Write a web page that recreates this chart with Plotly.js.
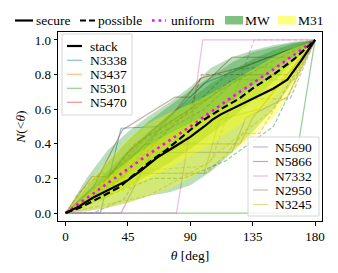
<!DOCTYPE html>
<html>
<head>
<meta charset="utf-8">
<script src="https://cdn.plot.ly/plotly-3.0.1.min.js"></script>
<style>html,body{margin:0;padding:0;background:#fff;}#chart{width:338px;height:273px;}</style>
</head>
<body>
<div id="chart"></div>
<script>
// ---------------- data ----------------
const theta = [0, 15, 30, 45, 60, 75, 90, 105, 120, 135, 150, 165, 180];

// MW bands (upper / lower)
const mwOuterUpper  = [0, 0.20, 0.36, 0.47, 0.56, 0.64, 0.73, 0.84, 0.90, 0.94, 0.97, 0.99, 1];
const mwOuterLower  = [0, 0.01, 0.03, 0.06, 0.10, 0.12, 0.16, 0.24, 0.35, 0.47, 0.60, 0.77, 1];
const mwMidUpper    = [0, 0.15, 0.29, 0.42, 0.53, 0.62, 0.71, 0.79, 0.87, 0.93, 0.96, 0.985, 1];
const mwMidLower    = [0, 0.04, 0.09, 0.15, 0.22, 0.29, 0.37, 0.46, 0.55, 0.65, 0.76, 0.88, 1];
const mwInnerUpper  = [0, 0.12, 0.24, 0.36, 0.47, 0.57, 0.66, 0.75, 0.82, 0.89, 0.94, 0.98, 1];
const mwInnerLower  = [0, 0.06, 0.14, 0.22, 0.30, 0.38, 0.47, 0.56, 0.65, 0.74, 0.83, 0.91, 1];

// M31 bands (upper / lower)
const m31OuterUpper = [0, 0.16, 0.30, 0.43, 0.52, 0.58, 0.63, 0.69, 0.76, 0.83, 0.90, 0.96, 1];
const m31OuterLower = [0, 0.01, 0.03, 0.06, 0.10, 0.14, 0.20, 0.27, 0.35, 0.44, 0.55, 0.72, 1];
const m31InnerUpper = [0, 0.10, 0.20, 0.30, 0.39, 0.46, 0.52, 0.58, 0.65, 0.72, 0.80, 0.90, 1];
const m31InnerLower = [0, 0.04, 0.09, 0.14, 0.20, 0.26, 0.33, 0.40, 0.48, 0.56, 0.66, 0.80, 1];

// stacked distributions and uniform reference  [theta, N]
const stackSecure   = [[0,0],[10,0.04],[20,0.09],[32,0.14],[45,0.19],[55,0.25],[66,0.32],[78,0.38],[90,0.44],[100,0.50],[106,0.54],[112,0.57],[125,0.62],[140,0.68],[150,0.72],[160,0.77],[170,0.88],[180,1]];
const stackPossible = [[0,0],[10,0.03],[20,0.07],[30,0.11],[39,0.15],[46,0.20],[54,0.25],[63,0.31],[72,0.36],[81,0.42],[90,0.48],[96,0.52],[112,0.60],[125,0.66],[135,0.72],[150,0.80],[165,0.89],[180,1]];
const uniform       = [[0,0],[30,0.17],[60,0.34],[90,0.50],[120,0.67],[150,0.83],[180,1]];

// individual galaxies  [theta, N]
const n3338Secure   = [[0,0],[25,0],[40,0.49],[68,0.50],[100,0.75],[140,0.88],[180,1]];
const n3338Possible = [[0,0],[30,0.12],[50,0.30],[65,0.45],[80,0.51],[100,0.60],[120,0.75],[150,0.88],[180,1]];
const n3437Secure   = [[0,0],[19,0.21],[30,0.21],[58,0.40],[126,0.40],[135,0.55],[155,0.75],[180,1]];
const n3437Possible = [[0,0],[10,0.12],[25,0.23],[101,0.23],[115,0.33],[128,0.46],[140,0.46],[165,0.80],[180,1]];
const n5301Secure   = [[0,0],[160,0],[180,1]];
const n5301Possible = [[0,0],[30,0.10],[63,0.20],[85,0.20],[115,0.30],[150,0.50],[180,1]];
const n5470Secure   = [[0,0],[20,0.10],[45,0.35],[80,0.60],[98,0.78],[130,0.85],[180,1]];
const n5470Possible = [[0,0],[40,0.20],[70,0.45],[90,0.60],[98,0.80],[162,0.80],[180,1]];
const n5690Secure   = [[0,0],[40,0],[62,0.35],[120,0.35],[130,0.55],[160,0.67],[180,1]];
const n5690Possible = [[0,0],[20,0],[42,0.08],[60,0.30],[100,0.50],[119,0.66],[162,0.66],[180,1]];
const n5866Secure   = [[0,0],[20,0.15],[41,0.48],[79,0.67],[90,0.67],[120,0.90],[167,0.90],[180,1]];
const n5866Possible = [[0,0],[25,0.15],[50,0.40],[90,0.58],[120,0.77],[165,0.77],[180,1]];
const n7332Secure   = [[0,0],[80,0],[90,0.49],[99,1],[180,1]];
const n7332Possible = [[0,0],[60,0.10],[105,0.30],[136,1],[180,1]];
const n2950Secure   = [[0,0],[20,0.10],[45,0.30],[70,0.50],[100,0.65],[130,0.80],[160,0.80],[180,1]];
const n2950Possible = [[0,0],[30,0.20],[60,0.45],[90,0.60],[120,0.83],[160,0.85],[180,1]];
const n3245Secure   = [[0,0],[25,0.15],[50,0.23],[100,0.23],[111,0.54],[140,0.60],[180,1]];
const n3245Possible = [[0,0],[30,0.15],[60,0.25],[100,0.27],[110,0.35],[150,0.60],[180,1]];

const galaxyNames = ['N3338','N3437','N5301','N5470','N5690','N5866','N7332','N2950','N3245'];
const galaxyColors = ['#1f77b4','#ff7f0e','#2ca02c','#d62728','#9467bd','#8c564b','#e377c2','#7f7f7f','#bcbd22'];
const galaxySecure = [n3338Secure,n3437Secure,n5301Secure,n5470Secure,n5690Secure,n5866Secure,n7332Secure,n2950Secure,n3245Secure];
const galaxyPossible = [n3338Possible,n3437Possible,n5301Possible,n5470Possible,n5690Possible,n5866Possible,n7332Possible,n2950Possible,n3245Possible];

const xTicks = [0, 45, 90, 135, 180];
const yTicks = [0, 0.2, 0.4, 0.6, 0.8, 1.0];

// ---------------- build ----------------
const FONT = '"Liberation Serif", "Times New Roman", serif';
const traces = [];

function lineTrace(pts, color, width, dash, opacity) {
  return {x: pts.map(p => p[0]), y: pts.map(p => p[1]), mode: 'lines', type: 'scatter',
          line: {color: color, width: width, dash: dash}, opacity: opacity,
          showlegend: false, hoverinfo: 'skip'};
}
function band(up, lo, color) {
  return {x: theta.concat(theta.slice().reverse()), y: up.concat(lo.slice().reverse()),
          mode: 'lines', type: 'scatter', fill: 'toself', fillcolor: color,
          line: {width: 0, color: 'rgba(0,0,0,0)'}, showlegend: false, hoverinfo: 'skip'};
}

for (let i = 0; i < galaxyNames.length; i++) {
  traces.push(lineTrace(galaxySecure[i], galaxyColors[i], 1.2, 'solid', 0.5));
  traces.push(lineTrace(galaxyPossible[i], galaxyColors[i], 1.2, '4px,2px', 0.5));
}
const mwC = 'rgba(0,128,0,0.27)', m31C = 'rgba(255,255,0,0.36)';
traces.push(band(mwOuterUpper, mwOuterLower, mwC));
traces.push(band(mwMidUpper, mwMidLower, mwC));
traces.push(band(mwInnerUpper, mwInnerLower, mwC));
traces.push(band(m31OuterUpper, m31OuterLower, m31C));
traces.push(band(m31InnerUpper, m31InnerLower, m31C));
traces.push(lineTrace(uniform, '#ff00ff', 2.6, '2.6px,4px', 1));
traces.push(lineTrace(stackPossible, '#000000', 2.2, '7px,3.5px', 1));
traces.push(lineTrace(stackSecure, '#000000', 2.2, 'solid', 1));

// manual legends (pixel -> paper)
const L = 58, R = 322, T = 32, B = 221;
const PX = px => (px - L) / (R - L);
const PY = py => (B - py) / (B - T);
const shapes = [], annotations = [];
function legLine(x0, x1, y, color, width, dash, opacity) {
  shapes.push({type: 'line', xref: 'paper', yref: 'paper', x0: PX(x0), x1: PX(x1), y0: PY(y), y1: PY(y),
               line: {color: color, width: width, dash: dash}, opacity: opacity, layer: 'above'});
}
function legText(x, y, txt) {
  annotations.push({xref: 'paper', yref: 'paper', x: PX(x), y: PY(y), xanchor: 'left', yanchor: 'middle',
                    text: txt, showarrow: false, font: {family: FONT, size: 13.5, color: '#000'}});
}
function legRect(x0, x1, y0, y1, fill, lineColor) {
  shapes.push({type: 'rect', xref: 'paper', yref: 'paper', x0: PX(x0), x1: PX(x1), y0: PY(y1), y1: PY(y0),
               fillcolor: fill, line: {color: lineColor, width: lineColor ? 1 : 0}, layer: 'above'});
}

// top legend
legLine(15, 33, 20.5, '#000', 2.2, 'solid', 1);       legText(34, 20.5, 'secure');
legLine(80, 97, 20.5, '#000', 2.2, '6px,3px', 1);     legText(96, 20.5, 'possible');
legLine(152, 166, 20.5, '#ff00ff', 2.6, '2.6px,4px', 1); legText(169, 20.5, 'uniform');
legRect(225, 243, 16, 24.5, 'rgb(128,192,128)', null); legText(243, 20.5, 'MW');
legRect(278, 296, 16, 24.5, 'rgb(255,255,128)', null); legText(296, 20.5, 'M31');

// legend 1 (upper left)
legRect(62, 132, 34, 115, 'rgba(255,255,255,0.8)', '#d6d6d6');
const rows1 = [46, 60.3, 74.3, 88.3, 102.3];
legLine(67, 82, rows1[0], '#000', 2.2, 'solid', 1); legText(88, rows1[0], 'stack');
for (let i = 0; i < 4; i++) {
  legLine(67, 82, rows1[i + 1], galaxyColors[i], 1.2, 'solid', 0.5);
  legText(88, rows1[i + 1], galaxyNames[i]);
}
// legend 2 (lower right)
legRect(248, 319, 137, 216, 'rgba(255,255,255,0.8)', '#d6d6d6');
const rows2 = [147, 161.5, 176, 190, 204.5];
for (let i = 0; i < 5; i++) {
  legLine(253, 268, rows2[i], galaxyColors[i + 4], 1.2, 'solid', 0.5);
  legText(273, rows2[i], galaxyNames[i + 4]);
}

const axisCommon = {showgrid: false, zeroline: false, showline: true, mirror: true, linecolor: '#000',
                    linewidth: 1, ticks: 'outside', ticklen: 3.5, tickwidth: 1, tickcolor: '#000',
                    tickfont: {family: FONT, size: 13, color: '#000'}};
const layout = {
  width: 338, height: 273,
  margin: {l: L, r: 338 - R, t: T, b: 273 - B, pad: 0},
  paper_bgcolor: '#fff', plot_bgcolor: '#fff',
  showlegend: false,
  xaxis: Object.assign({}, axisCommon, {range: [-5.5, 185], tickvals: xTicks, ticktext: xTicks.map(String),
          title: {text: '<i>θ</i> [deg]', font: {family: FONT, size: 13.5, color: '#000'}, standoff: 7}}),
  yaxis: Object.assign({}, axisCommon, {range: [-0.046, 1.046], tickvals: yTicks, ticktext: yTicks.map(v => v.toFixed(1)),
          title: {text: '<i>N</i>(&lt;<i>θ</i>)', font: {family: FONT, size: 13.5, color: '#000'}, standoff: 5}}),
  shapes: shapes, annotations: annotations
};
Plotly.newPlot('chart', traces, layout, {staticPlot: true, displayModeBar: false});
</script>
</body>
</html>
